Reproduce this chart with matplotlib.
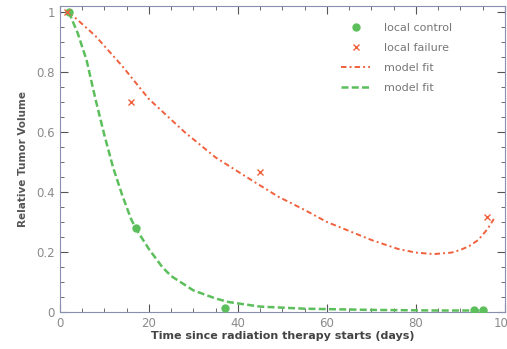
import matplotlib.pyplot as plt
from matplotlib.ticker import MultipleLocator

# observed data
ctrl_t = [2, 17, 37, 93, 95]
ctrl_v = [1.0, 0.28, 0.015, 0.006, 0.006]
fail_t = [1.5, 16, 45, 96]
fail_v = [1.0, 0.70, 0.465, 0.315]

# model fits
fit_fail_t = [2, 3.5, 8, 14, 20, 28, 35, 43, 49, 55, 60, 65, 70, 76, 80, 84, 88, 90, 92, 94, 96, 97.5]
fit_fail_v = [1.0, 0.98, 0.92, 0.82, 0.71, 0.60, 0.515, 0.44, 0.385, 0.34, 0.30, 0.27, 0.24, 0.21, 0.198, 0.193, 0.198, 0.207, 0.22, 0.24, 0.275, 0.31]
fit_ctrl_t = [2, 4, 6, 8, 10, 12, 14, 16, 17, 20, 23, 25, 30, 35, 38, 45, 55, 70, 85, 96]
fit_ctrl_v = [1.0, 0.93, 0.84, 0.71, 0.59, 0.48, 0.39, 0.31, 0.28, 0.21, 0.15, 0.12, 0.072, 0.045, 0.033, 0.018, 0.011, 0.007, 0.005, 0.005]

green = "#5cbf5c"
red = "#f0603c"

fig = plt.figure(figsize=(5.07, 3.49), dpi=100)
ax = fig.add_axes([0.118, 0.106, 0.878, 0.877])

ax.plot(ctrl_t, ctrl_v, "o", color=green, ms=5, label="local control", zorder=4)
ax.plot(fail_t, fail_v, "x", color=red, ms=4, mew=1, label="local failure", zorder=4)
ax.plot(fit_fail_t, fit_fail_v, color=red, lw=1.4, dashes=(2.8, 1.6, 1, 1.6), label="model fit")
ax.plot(fit_ctrl_t, fit_ctrl_v, color=green, lw=1.8, dashes=(2.8, 1.3), label="model fit")

ax.set_xlim(0, 100)
ax.set_ylim(0, 1.02)
ax.set_xticks([0, 20, 40, 60, 80, 100])
ax.set_yticks([0, 0.2, 0.4, 0.6, 0.8, 1.0])
ax.set_yticklabels(["0", "0.2", "0.4", "0.6", "0.8", "1"])
ax.xaxis.set_minor_locator(MultipleLocator(5))
ax.yaxis.set_minor_locator(MultipleLocator(0.05))
ax.tick_params(which="both", direction="in", top=True, right=True, colors="#555555",
               labelcolor="#8a8a8a", labelsize=8.5)
ax.tick_params(which="major", length=6)
ax.tick_params(which="minor", length=3)
for s in ax.spines.values():
    s.set_color("#8890b0")

ax.set_xlabel("Time since radiation therapy starts (days)", fontsize=8, fontweight="bold",
              color="#444444", labelpad=1)
ax.set_ylabel("Relative Tumor Volume", fontsize=7.5, fontweight="bold", color="#555555",
              labelpad=6)

leg = ax.legend(loc="upper left", bbox_to_anchor=(0.61, 0.978), frameon=False, fontsize=8,
                handlelength=2.6, handletextpad=1.2, labelspacing=0.9, labelcolor="#777777")

fig.savefig("out.png", dpi=100)
